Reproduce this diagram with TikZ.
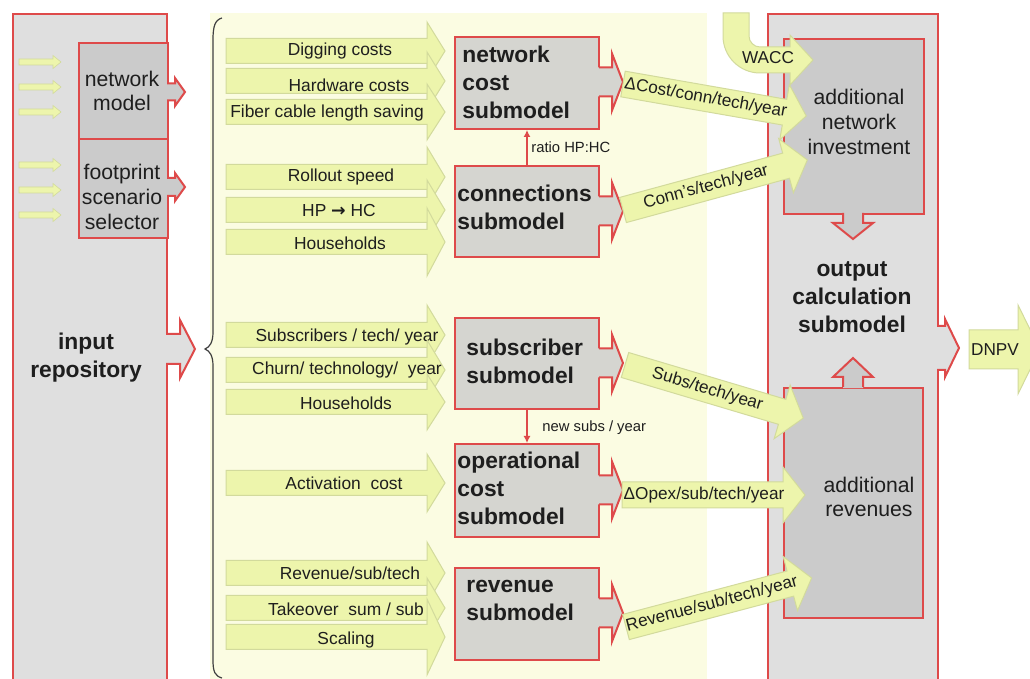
\documentclass[tikz,border=0pt]{standalone}
\usepackage{fontspec}
\setmainfont{Liberation Sans}
\newfontfamily\dejavu{DejaVu Sans}
\usetikzlibrary{arrows.meta}
\definecolor{redl}{RGB}{222,74,74}
\definecolor{gryL}{RGB}{223,223,223}
\definecolor{gryD}{RGB}{203,203,203}
\definecolor{grySub}{RGB}{213,213,208}
\definecolor{ylwBg}{RGB}{251,252,226}
\definecolor{ylwA}{RGB}{237,245,172}
\definecolor{ylwE}{RGB}{210,218,156}
\definecolor{txtc}{RGB}{30,30,30}
\newcommand\fsin{\fontsize{8.7}{10.4}\selectfont}
\newcommand\fslab{\fontsize{8.6}{10.3}\selectfont}
\newcommand\fsbold{\fontsize{11.4}{14}\selectfont\bfseries}
\newcommand\fsreg{\fontsize{10.6}{12.4}\selectfont}
\newcommand\fssmall{\fontsize{7.4}{9}\selectfont}
% block-arrow bump on the right edge of a box
\newcommand\bumpR[7]{%
  \fill[#7] (#1-1.1,#2-#3) -- (#5,#2-#3) -- (#5,#2-#4) -- (#6,#2) -- (#5,#2+#4) -- (#5,#2+#3) -- (#1-1.1,#2+#3) -- cycle;
  \draw[redline] (#1,#2-#3) -- (#5,#2-#3) -- (#5,#2-#4) -- (#6,#2) -- (#5,#2+#4) -- (#5,#2+#3) -- (#1,#2+#3);}
% input arrow
\newcommand\inarr[2]{%
  \draw[yarrow] (226,#1-12.5) -- (427,#1-12.5) -- (427,#1-#2) -- (445,#1) -- (427,#1+#2) -- (427,#1+12.5) -- (226,#1+12.5) -- cycle;}
% small arrow
\newcommand\smarr[1]{%
  \draw[yarrow,line width=0.3pt] (19,#1-3) -- (53,#1-3) -- (53,#1-6.5) -- (61,#1) -- (53,#1+6.5) -- (53,#1+3) -- (19,#1+3) -- cycle;}
% labelled output arrow
\newcommand\labarrow[7]{%
  \begin{scope}[shift={(#2,#3)},rotate=#4]
  \draw[yarrow] (0,-13) -- (#5-22,-13) -- (#5-22,-28) -- (#5,0) -- (#5-22,28) -- (#5-22,13) -- (0,13) -- cycle;
  \node[lbl,rotate=#4] (#1) at (#6,0) {#7};
  \end{scope}}
\begin{document}
\begin{tikzpicture}[x=0.5pt,y=-0.5pt,
  redline/.style={draw=redl,line width=1pt,line join=miter},
  box/.style={draw=redl,line width=1pt,inner sep=0pt},
  yarrow/.style={fill=ylwA,draw=ylwE,line width=0.5pt,line join=miter},
  txt/.style={text=txtc,inner sep=0pt},
  inlbl/.style={txt,font=\fsin},
  lbl/.style={txt,font=\fslab},
  boldt/.style={txt,font=\fsbold,align=left,anchor=west},
  boldc/.style={txt,font=\fsbold,align=center},
  regt/.style={txt,font=\fsreg,align=center},
  smallt/.style={txt,font=\fssmall,anchor=west},
  redthin/.style={draw=redl,line width=0.6pt,-{Latex[length=3.5pt,width=3.5pt]}}]
\useasboundingbox (0,0) rectangle (1030,679);
\clip (0,0) rectangle (1030,679);
\fill[white] (0,0) rectangle (1030,679);

% yellow panel
\node[fill=ylwBg,inner sep=0pt,minimum width=248.5pt,minimum height=343.5pt,anchor=north west] (panel) at (210,13) {};

% input repository
\node[box,fill=gryL,minimum width=77pt,minimum height=343.5pt,anchor=north west] (inrep) at (12,13) {};
\bumpR{166}{349}{15}{29}{180}{195}{gryL}
\node[boldc] (inrep-t) at (86,358) {input\\repository};

\smarr{62}\smarr{87}\smarr{112}\smarr{165}\smarr{190}\smarr{215}

\node[box,fill=gryD,minimum width=44.5pt,minimum height=48pt,anchor=north west] (netmod) at (78,42) {};
\node[box,fill=gryD,minimum width=44.5pt,minimum height=49.5pt,anchor=north west] (foot) at (78,138) {};
\bumpR{167}{92}{8.5}{14}{175}{185}{gryD}
\bumpR{167}{187}{9}{14}{175}{185}{gryD}
\node[regt] (netmod-t) at (122,91) {network\\model};
\node[regt] (foot-t) at (122,197) {footprint\\scenario\\selector};

% brace
\draw[black!75,line width=0.6pt] (222,18) .. controls (215,20) and (213,26) .. (213,40) -- (213,332)
  .. controls (213,342) and (210,347) .. (205,349) .. controls (210,351) and (213,356) .. (213,366)
  -- (213,660) .. controls (213,672) and (215,676) .. (222,678);

% input arrows
\inarr{51}{29}\node[inlbl] (i1) at (340,51) {Digging costs};
\inarr{81}{29}\node[inlbl] (i2) at (349,85) {Hardware costs};
\inarr{112}{28}\node[inlbl] (i3) at (327,113) {Fiber cable length saving};
\inarr{177}{30}\node[inlbl] (i4) at (341,177) {Rollout speed};
\inarr{210}{30}\node[inlbl] (i5) at (339,211) {HP {\dejavu\bfseries →} HC};
\inarr{242}{34}\node[inlbl] (i6) at (340,243) {Households};
\inarr{335}{30}\node[inlbl] (i7) at (347,337) {Subscribers / tech/ year};
\inarr{370}{30}\node[inlbl] (i8) at (347,370) {Churn/ technology/~ year};
\inarr{402}{28}\node[inlbl] (i9) at (346,403) {Households};
\inarr{483}{29}\node[inlbl] (i10) at (344,483) {Activation~ cost};
\inarr{573}{31}\node[inlbl] (i11) at (350,573) {Revenue/sub/tech};
\inarr{608}{30}\node[inlbl] (i12) at (346,609) {Takeover~ sum / sub};
\inarr{637}{38}\node[inlbl] (i13) at (346,640) {Scaling};

% submodels
\node[box,fill=grySub,minimum width=72pt,minimum height=46pt] (netcost) at (527,83) {};
\node[box,fill=grySub,minimum width=72pt,minimum height=45.5pt] (conn) at (527,211.5) {};
\node[box,fill=grySub,minimum width=72pt,minimum height=45.5pt] (subs) at (527,363.5) {};
\node[box,fill=grySub,minimum width=72pt,minimum height=46.5pt] (opex) at (527,490.5) {};
\node[box,fill=grySub,minimum width=72pt,minimum height=46pt] (rev) at (527,614) {};
\bumpR{599}{82}{14.5}{28.5}{612}{623}{grySub}
\bumpR{599}{211}{14.5}{28.5}{612}{623}{grySub}
\bumpR{599}{363}{14.5}{28.5}{612}{623}{grySub}
\bumpR{599}{490}{14.5}{28.5}{612}{623}{grySub}
\bumpR{599}{613}{14.5}{28.5}{612}{623}{grySub}
\node[boldt] (netcost-t) at (462,82) {network\\cost\\submodel};
\node[boldt] (conn-t) at (457,207) {connections\\submodel};
\node[boldt] (subs-t) at (466,361) {subscriber\\submodel};
\node[boldt] (opex-t) at (457,488) {operational\\cost\\submodel};
\node[boldt] (rev-t) at (466,600) {revenue\\submodel};

\draw[redthin] (conn.north) -- (netcost.south);
\node[smallt] (ratio) at (531,147) {ratio HP:HC};
\draw[redthin] (subs.south) -- (opex.north);
\node[smallt] (newsubs) at (542,428) {new subs / year};

% output calculation
\node[box,fill=gryL,minimum width=85pt,minimum height=343.5pt,anchor=north west] (outc) at (767,13) {};
\bumpR{937}{348}{22}{29}{945}{959}{gryL}
\node[box,fill=gryD,minimum width=70pt,minimum height=87.5pt,anchor=north west] (addinv) at (783,38) {};
\node[box,fill=gryD,minimum width=69.5pt,minimum height=115pt,anchor=north west] (addrev) at (783,387) {};
\fill[gryD] (843,211.9) -- (843,223) -- (833,223) -- (853,239) -- (873,223) -- (863,223) -- (863,211.9) -- cycle;
\draw[redline] (843,213) -- (843,223) -- (833,223) -- (853,239) -- (873,223) -- (863,223) -- (863,213);
\fill[gryD] (843,388.1) -- (843,377) -- (833,377) -- (853,358) -- (873,377) -- (863,377) -- (863,388.1) -- cycle;
\draw[redline] (843,387) -- (843,377) -- (833,377) -- (853,358) -- (873,377) -- (863,377) -- (863,387);
\node[boldc] (outc-t) at (852,297) {output\\calculation\\submodel};
\node[regt] (addinv-t) at (859,122) {additional\\network\\investment};
\node[regt] (addrev-t) at (869,497) {additional\\revenues};

% WACC
\draw[yarrow] (723,13) -- (749,13) -- (749,36) .. controls (749,42) and (754,47) .. (760,47) -- (790,47)
  -- (790,35) -- (813,60) -- (790,85) -- (790,73) -- (760,73) .. controls (739.6,73) and (723,56.4) .. (723,36) -- cycle;
\node[lbl] (wacc) at (768,58) {WACC};

% labelled output arrows
\labarrow{lcost}{623}{84}{-9.9}{186}{84}{ΔCost/conn/tech/year}
\labarrow{lconn}{623}{210}{15.2}{191}{86}{Conn's/tech/year}
\labarrow{lsubs}{625}{365}{-16.6}{186}{86}{Subs/tech/year}
\labarrow{lopex}{622}{495}{0}{183}{82}{ΔOpex/sub/tech/year}
\labarrow{lrev}{626}{627}{14.8}{192}{89}{Revenue/sub/tech/year}

% DNPV
\draw[yarrow] (969,330) -- (1018,330) -- (1018,305) -- (1040,349.5) -- (1018,394) -- (1018,369) -- (969,369) -- cycle;
\node[lbl] (dnpv) at (995,350) {DNPV};
\end{tikzpicture}
\end{document}
